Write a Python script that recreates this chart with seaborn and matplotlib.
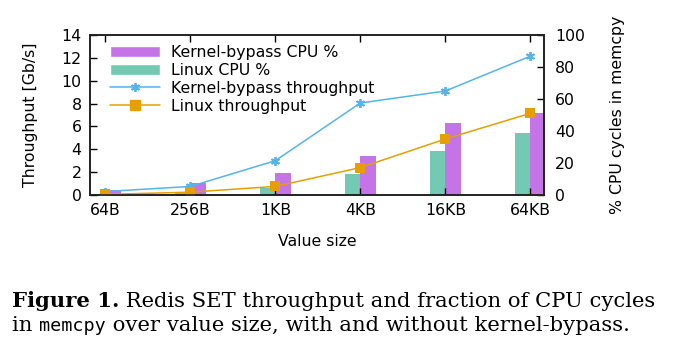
import numpy as np
import pandas as pd
import seaborn as sns
import matplotlib.pyplot as plt
from matplotlib.patches import Patch
from matplotlib.lines import Line2D
from matplotlib.transforms import IdentityTransform

# datos
sizes = ['64B', '256B', '1KB', '4KB', '16KB', '64KB']
kb_tput = [0.3, 0.75, 3.0, 8.05, 9.1, 12.15]
linux_tput = [0.05, 0.25, 0.75, 2.4, 4.9, 7.15]
kb_cpu = [3.0, 7.3, 14.0, 24.2, 45.0, 51.0]
linux_cpu = [0.5, 2.0, 4.2, 13.0, 27.7, 39.0]

purple = '#c474e6'
green = '#73c9b1'
blue = '#56b4e9'
orange = '#e69f00'

sns.set_style('ticks')
plt.rcParams['font.family'] = ['DejaVu Sans']
plt.rcParams['font.size'] = 11.3
for k in ['text.color', 'axes.labelcolor', 'xtick.color', 'ytick.color']:
    plt.rcParams[k] = 'black'

cpu = pd.DataFrame({
    'size': sizes * 2,
    'cpu': linux_cpu + kb_cpu,
    'sys': ['Linux'] * 6 + ['Kernel-bypass'] * 6,
})
tput = pd.DataFrame({
    'x': list(range(6)) * 2,
    'tput': kb_tput + linux_tput,
    'sys': ['Kernel-bypass'] * 6 + ['Linux'] * 6,
})

fig = plt.figure(figsize=(6.73, 3.57), dpi=100)
ax = fig.add_axes([90 / 673, 1 - 195 / 357, 454 / 673, 160 / 357])
ax2 = ax.twinx()

# barras en el eje derecho
sns.barplot(data=cpu, x='size', y='cpu', hue='sys', hue_order=['Linux', 'Kernel-bypass'],
            palette=[green, purple], width=0.36, saturation=1, linewidth=0, gap=0,
            ax=ax2, legend=False)

# lineas en el eje izquierdo
sns.lineplot(data=tput[tput.sys == 'Kernel-bypass'], x='x', y='tput', color=blue, marker=(6, 2, 0),
             markersize=6.5, markeredgewidth=1.3, markeredgecolor=blue, linewidth=1.1, ax=ax)
sns.lineplot(data=tput[tput.sys == 'Linux'], x='x', y='tput', color=orange, marker='s',
             markersize=7, markeredgewidth=0, linewidth=1.1, ax=ax)

ax.set_zorder(ax2.get_zorder() + 1)
ax.patch.set_visible(False)

ax.set_xlim(-0.18, 5.16)
ax.set_ylim(0, 14)
ax.set_yticks(range(0, 15, 2))
ax2.set_ylim(0, 100)
ax2.set_yticks(range(0, 101, 20))
ax.set_xticks(range(6))
ax.set_xticklabels(sizes)

ax.set_xlabel('Value size', labelpad=11)
ax.set_ylabel('Throughput [Gb/s]', labelpad=17)
ax2.set_ylabel('% CPU cycles in memcpy', labelpad=18)
ax2.set_xlabel('')

for a in (ax, ax2):
    for s in a.spines.values():
        s.set_visible(True)
        s.set_color('#222222')
        s.set_linewidth(1.2)
ax.tick_params(axis='both', direction='in', length=5, width=1, top=True, right=False, pad=6)
ax2.tick_params(axis='y', direction='in', length=5, width=1, pad=8)

handles = [
    Patch(facecolor=purple, label='Kernel-bypass CPU %'),
    Patch(facecolor=green, label='Linux CPU %'),
    Line2D([], [], color=blue, marker=(6, 2, 0), markersize=6.5, markeredgewidth=1.3, linewidth=1.1,
           label='Kernel-bypass throughput'),
    Line2D([], [], color=orange, marker='s', markersize=7, linewidth=1.1, label='Linux throughput'),
]
ax.legend(handles=handles, loc='upper left', bbox_to_anchor=(0.022, 1.0), frameon=False,
          handlelength=3.2, handleheight=0.7, labelspacing=0.18, handletextpad=0.65,
          borderaxespad=0.25, fontsize=11.3)

# pie de figura
fig.canvas.draw()
r = fig.canvas.get_renderer()
serif = 'DejaVu Serif'
fs = 15.2


def chain(x, y, parts):
    for txt, kw in parts:
        opts = dict(fontsize=fs, va='baseline', ha='left', transform=IdentityTransform())
        opts.update(kw)
        t = fig.text(x, y, txt, **opts)
        x = t.get_window_extent(r).x1
    return x


chain(12, 357 - 307, [('Figure 1.', dict(family=serif, weight='bold')),
                      (' Redis SET throughput and fraction of CPU cycles', dict(family=serif))])
chain(12, 357 - 331, [('in ', dict(family=serif)),
                      ('memcpy', dict(family='DejaVu Sans Mono', fontsize=fs - 2)),
                      (' over value size, with and without kernel-bypass.', dict(family=serif))])

fig.savefig('out.png', dpi=100)
